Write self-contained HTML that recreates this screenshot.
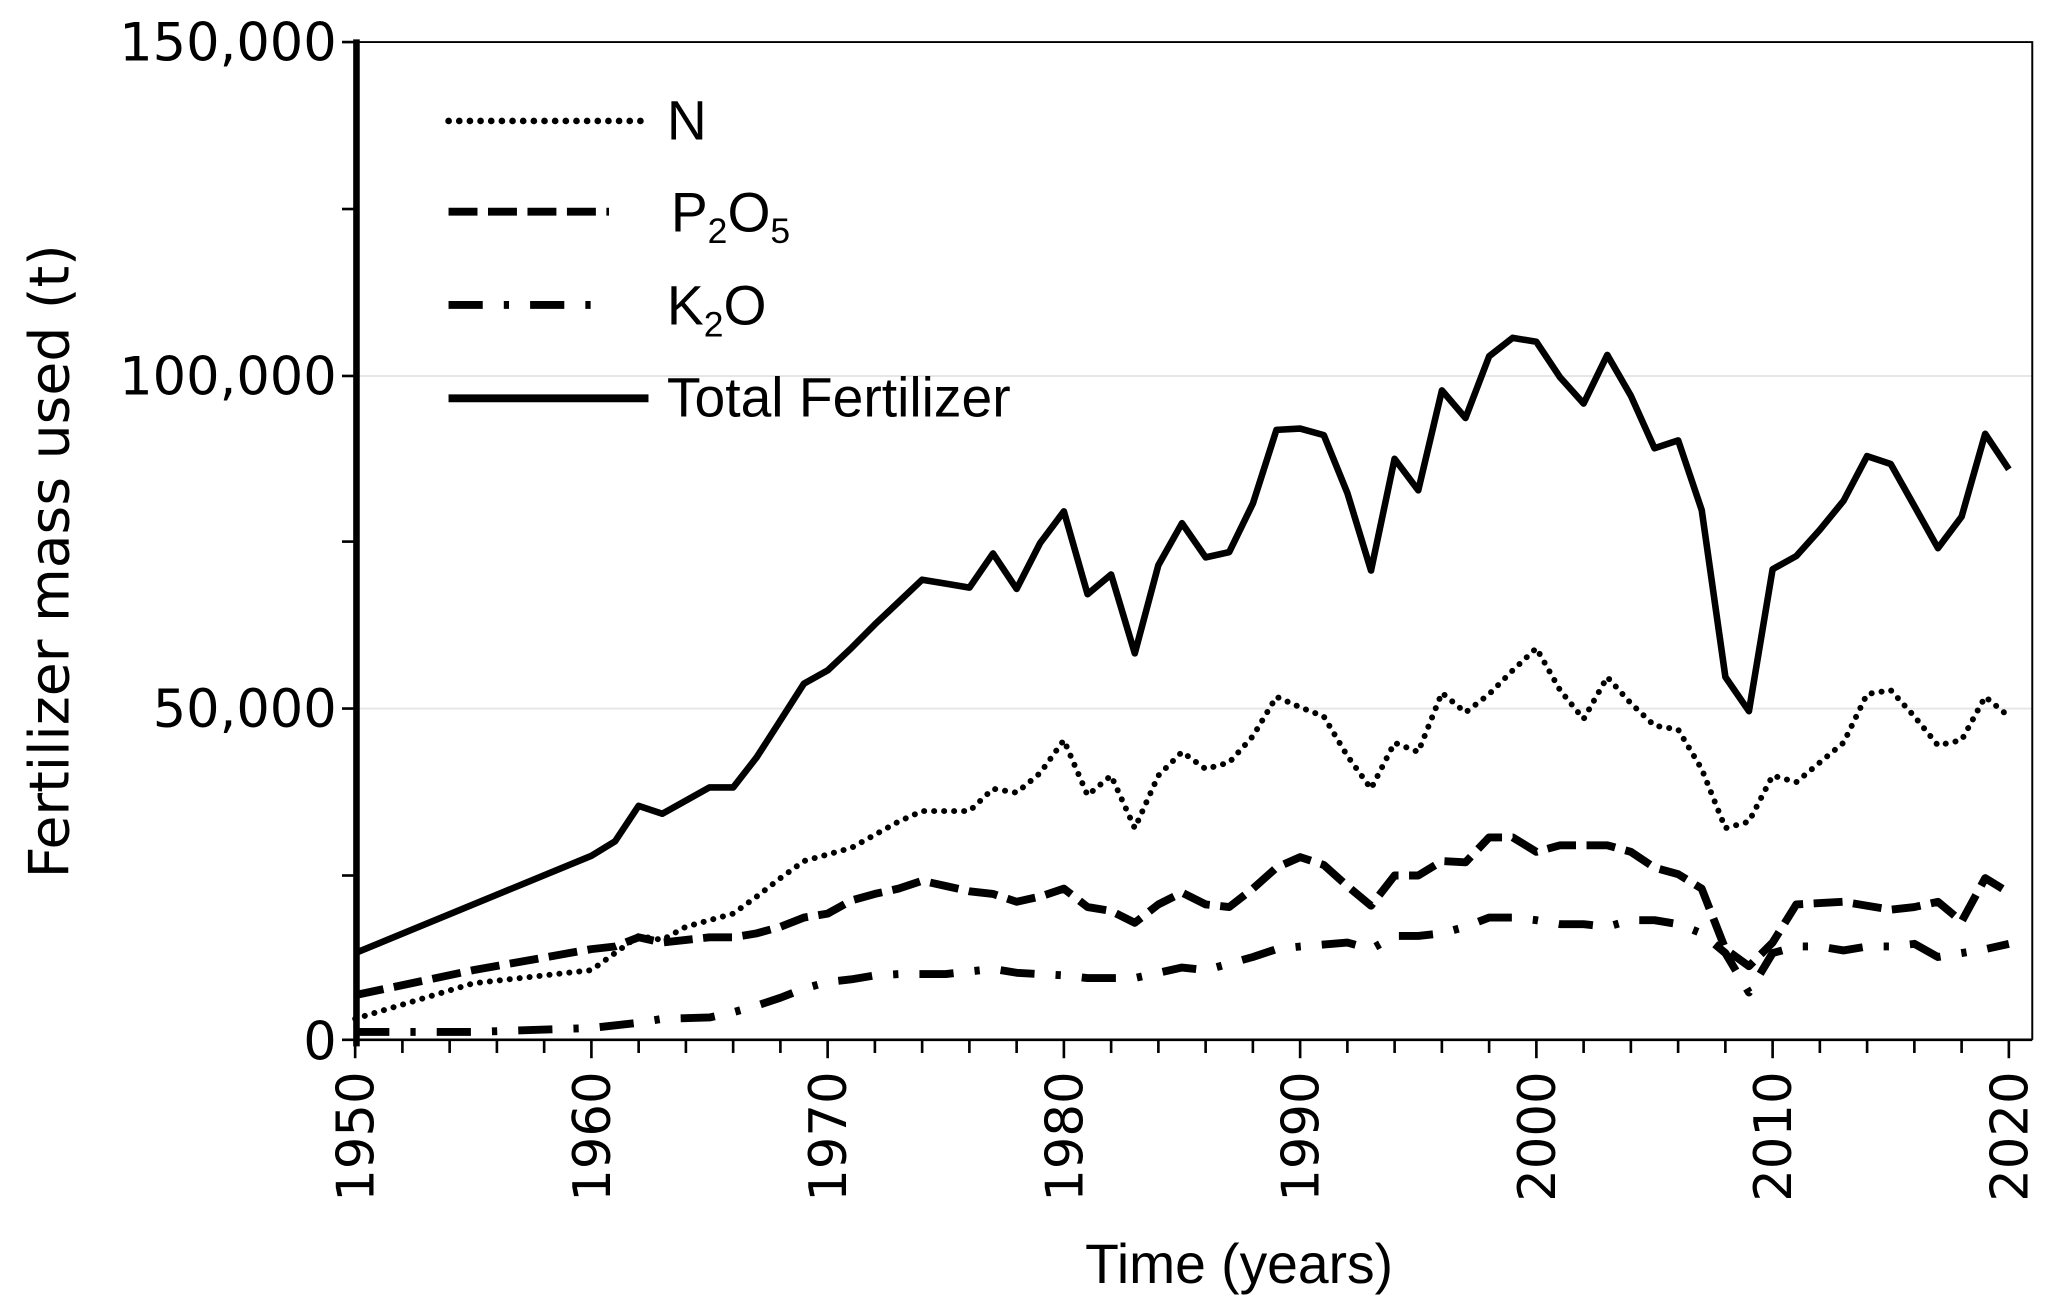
<!DOCTYPE html>
<html><head><meta charset="utf-8"><style>html,body{margin:0;padding:0;background:#fff}svg{display:block}</style></head>
<body>
<svg id="s" width="2052" height="1308" viewBox="0 0 1560 995" preserveAspectRatio="none" xmlns="http://www.w3.org/2000/svg" font-family="Liberation Sans, sans-serif">
<rect width="1560" height="995" fill="#fff"/>
<line x1="270" y1="286" x2="1545" y2="286" stroke="#e6e6e6" stroke-width="1.5"/>
<line x1="270" y1="539" x2="1545" y2="539" stroke="#e6e6e6" stroke-width="1.5"/>
<polyline points="270,32 1545,32 1545,791" fill="none" stroke="#000" stroke-width="1.5"/>
<line x1="270" y1="791" x2="1545" y2="791" stroke="#000" stroke-width="2"/>
<line x1="271" y1="30" x2="271" y2="796" stroke="#000" stroke-width="5"/>
<g id="ticks" stroke="#000" stroke-width="2"></g>
<g font-size="40" text-anchor="end" fill="#000" font-family="DejaVu Sans, sans-serif">
<text x="256" y="46">150,000</text>
<text x="256" y="300">100,000</text>
<text x="256" y="553">50,000</text>
<text x="256" y="806">0</text>
</g>
<g id="xl" font-size="39" fill="#000" font-family="DejaVu Sans, sans-serif"></g>
<text x="942" y="976" font-size="42" text-anchor="middle">Time (years)</text>
<text transform="translate(52,427) rotate(-90)" font-size="42" text-anchor="middle" font-family="DejaVu Sans, sans-serif">Fertilizer mass used (t)</text>
<g id="series" fill="none" stroke="#000" stroke-linejoin="round"></g>
<g stroke="#000" fill="none">
<line x1="341" y1="92" x2="493" y2="92" stroke-width="5" stroke-dasharray="0.1 8" stroke-linecap="round"/>
<line x1="341" y1="161" x2="463" y2="161" stroke-width="6" stroke-dasharray="22 8"/>
<line x1="341" y1="232" x2="455" y2="232" stroke-width="6" stroke-dasharray="26 16 4 16"/>
<line x1="341" y1="303" x2="493" y2="303" stroke-width="6"/>
</g>
<g font-size="42" fill="#000">
<text x="507" y="106">N</text>
<text x="510" y="176">P<tspan font-size="27" dy="9">2</tspan><tspan dy="-9">O</tspan><tspan font-size="27" dy="9">5</tspan></text>
<text x="507" y="247">K<tspan font-size="27" dy="9">2</tspan><tspan dy="-9">O</tspan></text>
<text x="507" y="317">Total Fertilizer</text>
</g>
</svg>
<script>
var NS="http://www.w3.org/2000/svg";
function X(y){return 270+(y-1950)*17.96;}
var T={1950:725,1960:651,1961:640,1962:613,1963:619,1964:609,1965:599,1966:599,1967:576,1968:548,1969:520,1970:510,1971:493,1972:475,1973:458,1974:441,1975:444,1976:447,1977:421,1978:448,1979:413,1980:389,1981:452,1982:437,1983:497,1984:430,1985:398,1986:424,1987:420,1988:383,1989:327,1990:326,1991:331,1992:375,1993:434,1994:349,1995:373,1996:297,1997:318,1998:271,1999:257,2000:260,2001:287,2002:307,2003:270,2004:301,2005:341,2006:335,2007:388,2008:515,2009:541,2010:433,2011:423,2012:403,2013:381,2014:347,2015:353,2016:385,2017:417,2018:393,2019:330,2020:357};
var N={1950:775,1955:748,1960:738,1961:725,1962:712,1963:715,1964:705,1965:700,1966:695,1967:682,1968:668,1969:655,1970:650,1971:645,1972:635,1973:625,1974:617,1975:617,1976:617,1977:600,1978:603,1979:588,1980:563,1981:605,1982:590,1983:630,1984:590,1985:572,1986:585,1987:580,1988:560,1989:530,1990:538,1991:545,1992:575,1993:600,1994:565,1995:572,1996:527,1997:542,1998:528,1999:510,2000:493,2001:525,2002:547,2003:515,2004:535,2005:552,2006:555,2007:585,2008:630,2009:625,2010:590,2011:595,2012:580,2013:565,2014:528,2015:525,2016:545,2017:567,2018:563,2019:530,2020:545};
var P={1950:757,1955:738,1960:722,1961:720,1962:713,1963:717,1964:715,1965:713,1966:713,1967:710,1968:705,1969:698,1970:695,1971:685,1972:680,1973:676,1974:670,1975:674,1976:678,1977:680,1978:686,1979:682,1980:676,1981:690,1982:693,1983:702,1984:688,1985:679,1986:688,1987:690,1988:676,1989:660,1990:652,1991:658,1992:674,1993:689,1994:666,1995:666,1996:655,1997:656,1998:637,1999:637,2000:648,2001:643,2002:643,2003:643,2004:648,2005:660,2006:665,2007:676,2008:722,2009:735,2010:717,2011:688,2012:687,2013:686,2014:689,2015:692,2016:690,2017:686,2018:701,2019:668,2020:679};
var K={1950:785,1955:785,1960:782,1962:778,1963:775,1965:774,1966:770,1967:765,1968:759,1969:752,1970:747,1971:745,1972:742,1973:741,1975:741,1977:737,1978:740,1980:742,1981:744,1982:744,1983:744,1984:740,1985:736,1986:738,1987:733,1988:728,1989:722,1990:720,1992:717,1993:722,1994:712,1995:712,1996:710,1997:705,1998:698,1999:698,2000:700,2001:703,2002:703,2003:705,2004:700,2005:700,2006:703,2007:710,2008:725,2009:755,2010:725,2011:720,2012:720,2013:723,2014:720,2015:720,2016:718,2017:728,2018:725,2019:722,2020:718};
function path(d,w,da,cap){var p="";Object.keys(d).forEach(function(k,i){p+=(i?"L":"M")+X(+k).toFixed(1)+","+d[k];});
var e=document.createElementNS(NS,"path");e.setAttribute("d",p);e.setAttribute("stroke-width",w);if(da)e.setAttribute("stroke-dasharray",da);if(cap)e.setAttribute("stroke-linecap",cap);document.getElementById("series").appendChild(e);}
path(N,4.5,"0.1 7.5","round");path(P,6,"22 8");path(K,6,"26 16 4 16");path(T,5);
var tg=document.getElementById("ticks");
function ln(a,b,c,d){var e=document.createElementNS(NS,"line");e.setAttribute("x1",a);e.setAttribute("y1",b);e.setAttribute("x2",c);e.setAttribute("y2",d);tg.appendChild(e);}
for(var y=1950;y<=2020;y+=2){var x=X(y);ln(x,791,x,y%10==0?805:801);}
[32,159,286,412,539,666,791].forEach(function(v){ln(260,v,270,v);});
var xl=document.getElementById("xl");
for(var y=1950;y<=2020;y+=10){var t=document.createElementNS(NS,"text");t.setAttribute("transform","translate("+(X(y)+14)+",815) rotate(-90)");t.setAttribute("text-anchor","end");t.textContent=y;xl.appendChild(t);}
</script>
</body></html>
